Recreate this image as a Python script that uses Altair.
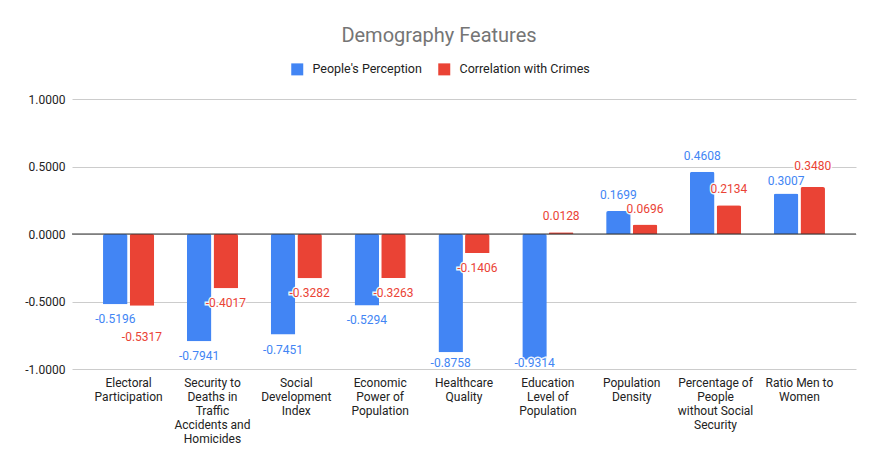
import altair as alt
import pandas as pd

categories = [
    "Electoral Participation",
    "Security to Deaths in Traffic Accidents and Homicides",
    "Social Development Index",
    "Economic Power of Population",
    "Healthcare Quality",
    "Education Level of Population",
    "Population Density",
    "Percentage of People without Social Security",
    "Ratio Men to Women",
]
label_lines = [
    ["Electoral", "Participation"],
    ["Security to", "Deaths in", "Traffic", "Accidents and", "Homicides"],
    ["Social", "Development", "Index"],
    ["Economic", "Power of", "Population"],
    ["Healthcare", "Quality"],
    ["Education", "Level of", "Population"],
    ["Population", "Density"],
    ["Percentage of", "People", "without Social", "Security"],
    ["Ratio Men to", "Women"],
]
series = ["People's Perception", "Correlation with Crimes"]
perception = [-0.5196, -0.7941, -0.7451, -0.5294, -0.8758, -0.9314, 0.1699, 0.4608, 0.3007]
crimes = [-0.5317, -0.4017, -0.3282, -0.3263, -0.1406, 0.0128, 0.0696, 0.2134, 0.3480]
colors = ["#4285F4", "#EA4335"]

rows = []
for c, a, b in zip(categories, perception, crimes):
    rows.append({"category": c, "series": series[0], "value": a})
    rows.append({"category": c, "series": series[1], "value": b})
df = pd.DataFrame(rows)

mapping = "{" + ",".join(
    "'" + c + "':[" + ",".join("'" + l + "'" for l in ls) + "]"
    for c, ls in zip(categories, label_lines)
) + "}"

FONT = "Roboto"
FMT = "replace(format({v}, '.4f'), '\u2212', '-')"

x_enc = alt.X(
    "category:N",
    sort=categories,
    scale=alt.Scale(paddingInner=0.39, paddingOuter=0.37),
    axis=alt.Axis(
        title=None, labelAngle=0, domain=False, ticks=False, labelPadding=8,
        labelExpr=mapping + "[datum.value]", labelFontSize=12, labelColor="#222222",
        labelLineHeight=14, labelFont=FONT, labelLimit=200,
    ),
)
y_enc = alt.Y(
    "value:Q",
    scale=alt.Scale(domain=[-1, 1], nice=False),
    axis=alt.Axis(
        title=None, values=[-1, -0.5, 0, 0.5, 1],
        labelExpr=FMT.format(v="datum.value"), domain=False,
        ticks=False, labelPadding=7, gridColor="#cccccc", labelFontSize=12,
        labelColor="#222222", labelFont=FONT,
    ),
)
xoff = alt.XOffset("series:N", sort=series, scale=alt.Scale(paddingInner=0.08))
color_enc = alt.Color(
    "series:N", sort=series,
    scale=alt.Scale(domain=series, range=colors),
    legend=alt.Legend(
        title=None, orient="none", direction="horizontal", legendX=219, legendY=-36,
        symbolType="square", symbolSize=144, symbolStrokeWidth=0,
        labelFontSize=12.5, labelColor="#222222", labelFont=FONT,
        columnPadding=16, labelOffset=9,
    ),
)

base = alt.Chart(df)

bars = base.mark_bar(cornerRadiusEnd=2).encode(
    x=x_enc, y=y_enc, xOffset=xoff, color=color_enc
)

zero = alt.Chart(pd.DataFrame({"z": [0]})).mark_rule(color="#333333", strokeWidth=1).encode(
    y="z:Q"
)

COLLIDE = "(datum.vmax - datum.vmin < 0.08 && ((datum.vmax < 0) || (datum.vmin > 0)))"


def labels(filter_expr, baseline, dy, halo):
    props = dict(baseline=baseline, dy=dy, fontSize=12, font=FONT, align="center")
    if halo:
        props.update(stroke="white", strokeWidth=3, strokeOpacity=0.9)
    return (
        base.transform_joinaggregate(
            vmin="min(value)", vmax="max(value)", groupby=["category"]
        )
        .transform_filter(filter_expr)
        .transform_calculate(
            lbl=FMT.format(v="datum.value"),
            # keep labels inside the plot and nudge colliding pairs apart
            ly="datum.value < 0 ? "
               "(max(datum.value, -0.844) - ((" + COLLIDE + " && datum.value == datum.vmin) ? 0.12 : 0)) : "
               "(datum.value + ((" + COLLIDE + " && datum.value == datum.vmax) ? 0.04 : 0)"
               " - ((" + COLLIDE + " && datum.value == datum.vmin) ? 0.03 : 0))",
        )
        .mark_text(**props)
        .encode(
            x=alt.X("category:N", sort=categories),
            y=alt.Y("ly:Q"),
            xOffset=alt.XOffset("series:N", sort=series),
            text=alt.Text("lbl:N"),
            color=alt.Color("series:N", sort=series, legend=None) if not halo else alt.value("white"),
        )
    )


layers = [bars]
for halo in (True, False):
    layers.append(labels("datum.value >= 0", "bottom", -9, halo))
    layers.append(labels("datum.value < 0", "top", 10, halo))
layers.append(zero)

chart = alt.layer(*layers).properties(
    width=784,
    height=270,
    autosize=alt.AutoSizeParams(type="none"),
    padding={"left": 64, "top": 91, "right": 15, "bottom": 92},
    title=alt.Title(
        "Demography Features", fontSize=20, font=FONT, fontWeight="normal",
        color="#757575", anchor="middle", frame="group", offset=17, dx=-25,
    ),
).configure_view(stroke=None)

chart.save("out.html", embed_options={"renderer": "svg", "actions": False})
